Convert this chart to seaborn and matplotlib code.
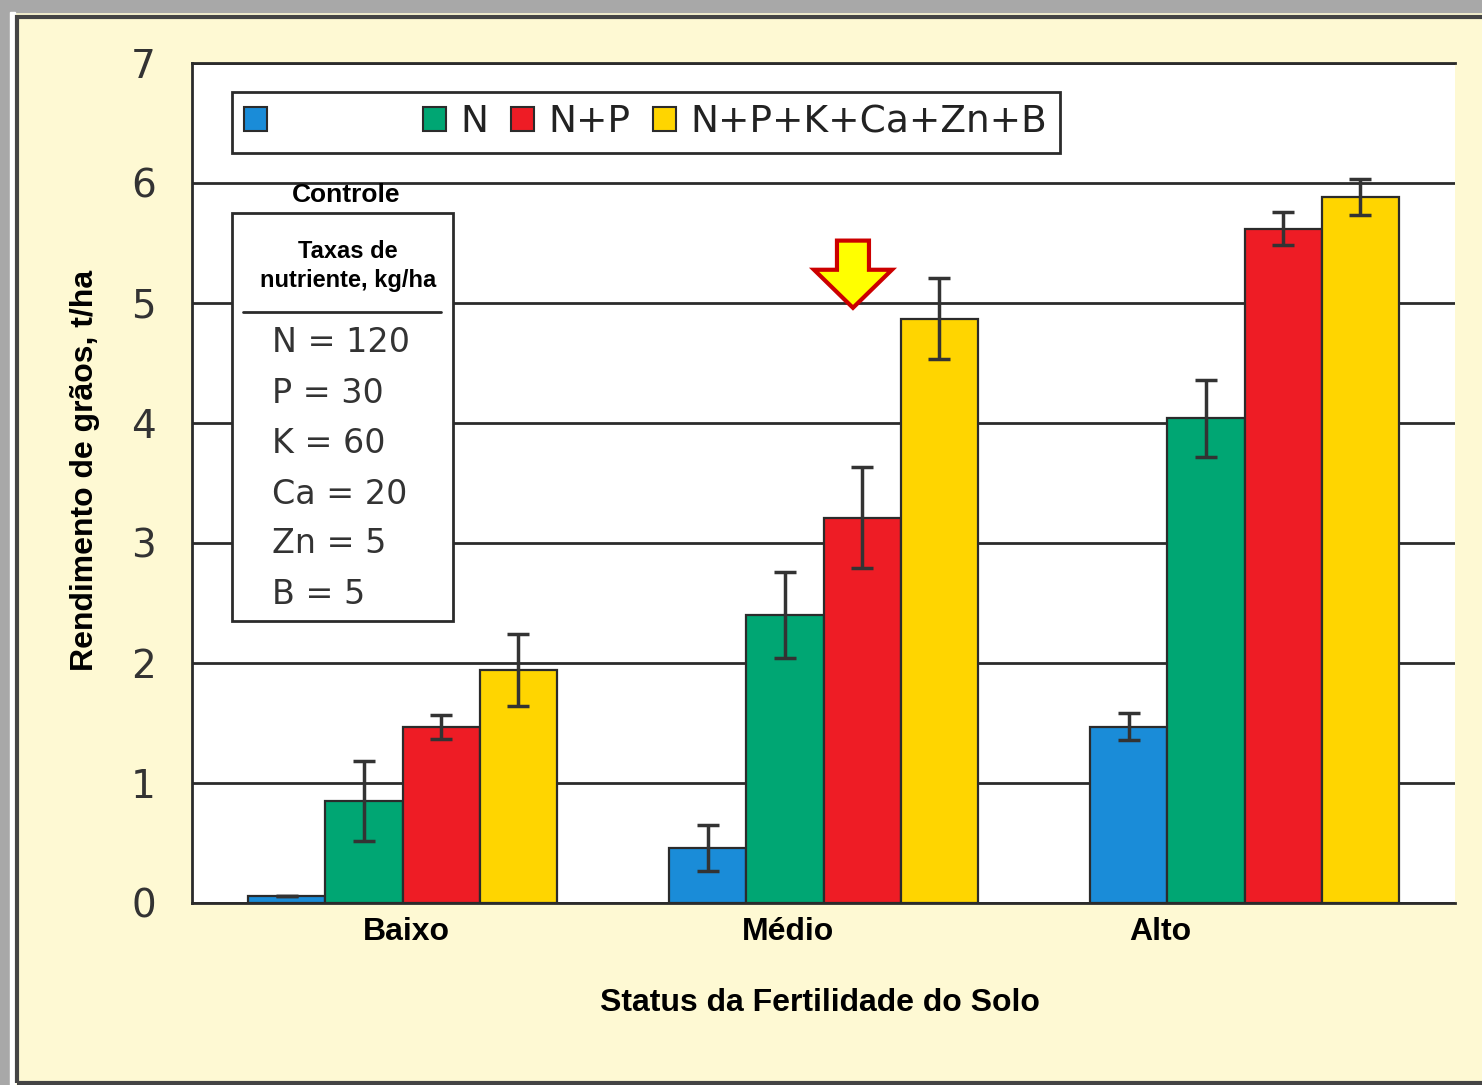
import pandas as pd
import matplotlib.pyplot as plt
import seaborn as sns
from matplotlib.patches import Rectangle, FancyArrow, Patch

# Data
status = ["Baixo", "Médio", "Alto"]
treatments = ["Controle", "N", "N+P", "N+P+K+Ca+Zn+B"]
controle = [0.06, 0.46, 1.47]
n_only = [0.85, 2.40, 4.04]
n_p = [1.47, 3.21, 5.62]
n_p_k = [1.94, 4.87, 5.88]
err_controle = [0.0, 0.19, 0.11]
err_n = [0.33, 0.36, 0.32]
err_np = [0.10, 0.42, 0.14]
err_npk = [0.30, 0.34, 0.15]
colors = ["#1A8CD8", "#00A673", "#EE1C25", "#FFD500"]
rates = ["N = 120", "P = 30", "K = 60", "Ca = 20", "Zn = 5", "B = 5"]

values = [controle, n_only, n_p, n_p_k]
errors = [err_controle, err_n, err_np, err_npk]
rows = []
for t, vals in zip(treatments, values):
    for s, v in zip(status, vals):
        rows.append({"status": s, "treatment": t, "value": v})
df = pd.DataFrame(rows)

sns.set_style("white")
plt.rcParams["font.family"] = ["DejaVu Sans"]

cream = "#FEF9D3"
dark = "#2B2B2B"
bold = dict(fontweight="bold", family="Liberation Sans", color="black")

fig = plt.figure(figsize=(14.82, 10.85), dpi=100, facecolor=cream)
ax = fig.add_axes([192 / 1482, 1 - 903 / 1085, 1263 / 1482, 840 / 1085])
ax.set_facecolor("white")

sns.barplot(data=df, x="status", y="value", hue="treatment", order=status,
            hue_order=treatments, palette=dict(zip(treatments, colors)),
            saturation=1, width=0.734, errorbar=None, edgecolor=dark,
            linewidth=1.6, legend=False, ax=ax, zorder=3)

# error bars from the bars seaborn drew
for cont, errs in zip(ax.containers, errors):
    xs = [b.get_x() + b.get_width() / 2 for b in cont]
    hs = [b.get_height() for b in cont]
    ax.errorbar(xs, hs, yerr=errs, fmt="none", ecolor="#333333",
                elinewidth=2.5, capsize=8, capthick=2.5, zorder=4)

ax.set_xlim(-0.5, 2.5)
ax.set_ylim(0, 7)
ax.set_yticks(range(8))
ax.set_yticklabels([str(i) for i in range(8)], fontsize=28, color="#333333")
ax.set_xticks([-0.5, 0.5, 1.5, 2.5])
ax.set_xticklabels([])
ax.tick_params(axis="both", direction="out", length=10, width=2, color=dark)
ax.tick_params(axis="y", pad=16)
ax.set_xlabel("")
ax.set_ylabel("")
ax.yaxis.grid(True, color=dark, linewidth=2)
ax.set_axisbelow(True)
for side in ["left", "bottom", "top"]:
    ax.spines[side].set_color(dark)
    ax.spines[side].set_linewidth(2)
ax.spines["right"].set_visible(False)

# category labels (offset like the original)
for i, (s, dx) in enumerate(zip(status, [0.01, -0.085, -0.2])):
    ax.text(i + dx, -0.034, s, transform=ax.get_xaxis_transform(),
            ha="center", va="center", fontsize=23, **bold)

fig.text(820 / 1482, 1 - 1003 / 1085, "Status da Fertilidade do Solo",
         ha="center", va="center", fontsize=23, **bold)
fig.text(85 / 1482, 1 - 470 / 1085, "Rendimento de grãos, t/ha",
         ha="center", va="center", rotation=90, fontsize=23, **bold)

# legend
handles = [Patch(facecolor=c, edgecolor=dark, linewidth=1.5) for c in colors]
labels = [" " * 10, "N", "N+P", "N+P+K+Ca+Zn+B"]
leg = ax.legend(handles, labels, ncol=4, loc="upper left",
                bbox_to_anchor=(0.0317, 0.9655), borderaxespad=0,
                fontsize=27, handlelength=0.6, handleheight=0.6,
                handletextpad=0.4, columnspacing=0.6, borderpad=0.33,
                frameon=True, fancybox=False, labelcolor="#222222")
leg.get_frame().set_edgecolor(dark)
leg.get_frame().set_linewidth(2)
leg.get_frame().set_facecolor("white")
leg.get_frame().set_alpha(1)

# nutrient rate box
ax.add_patch(Rectangle((0.0317, 0.3357), 0.175, 0.4857, transform=ax.transAxes,
                       facecolor="white", edgecolor=dark, linewidth=2, zorder=5))
ax.plot([0.0404, 0.1971], [0.7036, 0.7036], transform=ax.transAxes,
        color=dark, linewidth=2, zorder=6)
ax.text(0.1219, 0.8429, "Controle", transform=ax.transAxes, ha="center",
        va="center", fontsize=19, zorder=6, **bold)
ax.text(0.1235, 0.775, "Taxas de", transform=ax.transAxes, ha="center",
        va="center", fontsize=17, zorder=6, **bold)
ax.text(0.1235, 0.7405, "nutriente, kg/ha", transform=ax.transAxes,
        ha="center", va="center", fontsize=17, zorder=6, **bold)
for r, yy in zip(rates, [0.6667, 0.6071, 0.5476, 0.4869, 0.4274, 0.3667]):
    ax.text(0.0633, yy, r, transform=ax.transAxes, ha="left", va="center",
            fontsize=24, color="#333333", zorder=6)

# highlight arrow
ax.add_patch(FancyArrow(1.07, 5.52, 0, -0.56, width=0.076, head_width=0.185,
                        head_length=0.317, length_includes_head=True,
                        facecolor="#FFFF00", edgecolor="#CC0000",
                        linewidth=3, zorder=6))

# picture frame
fig.add_artist(Rectangle((0, 1 - 12 / 1085), 1, 12 / 1085,
                         transform=fig.transFigure, color="#A8A8A8"))
fig.add_artist(Rectangle((0, 0), 10 / 1482, 1, transform=fig.transFigure,
                         color="#A8A8A8"))
fig.add_artist(Rectangle((10 / 1482, 0), 5 / 1482, 1 - 12 / 1085,
                         transform=fig.transFigure, color="white"))
fig.add_artist(Rectangle((17 / 1482, 2 / 1085), 1.1, 1 - 19 / 1085,
                         transform=fig.transFigure, fill=False,
                         edgecolor="#444444", linewidth=3))

fig.savefig("out.png", dpi=100, facecolor=cream)
